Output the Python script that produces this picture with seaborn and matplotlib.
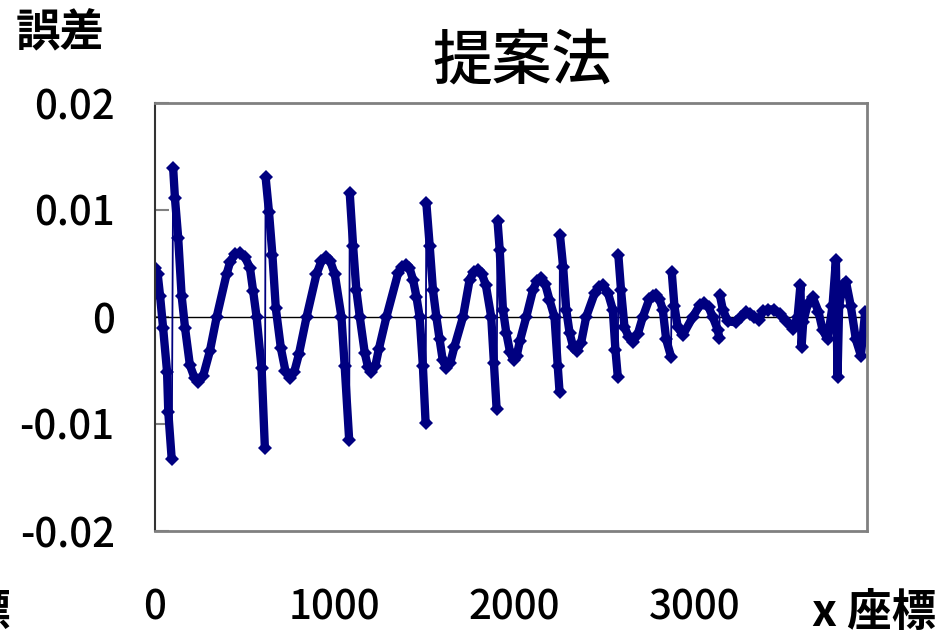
import numpy as np
import pandas as pd
import seaborn as sns
import matplotlib
matplotlib.use("Agg")
import matplotlib.pyplot as plt

# Error curve (x coordinate, error)
x_coord = [
    0, 15, 28, 45, 67, 74, 93,
    101, 111, 129, 148, 167, 194, 220, 240, 268, 305, 343, 398, 417, 445, 472, 500, 528, 546, 565, 593, 611,
    615, 634, 653, 672, 700, 725, 750, 775, 800, 843, 898, 925, 950, 975, 1000, 1037, 1055, 1080,
    1083, 1102, 1120, 1139, 1167, 1185, 1204, 1225, 1245, 1287, 1352, 1372, 1394, 1415, 1435, 1454, 1472, 1490, 1505,
    1509, 1528, 1546, 1565, 1583, 1600, 1620, 1642, 1665, 1713, 1750, 1773, 1796, 1818, 1840, 1870, 1885, 1900,
    1905, 1917, 1935, 1954, 1975, 1994, 2012, 2030, 2065, 2102, 2125, 2148, 2170, 2194, 2222, 2240, 2250,
    2252, 2270, 2287, 2306, 2326, 2346, 2370, 2398, 2445, 2468, 2491, 2520, 2546, 2561, 2574,
    2577, 2592, 2611, 2635, 2657, 2685, 2713, 2750, 2770, 2787, 2805, 2824, 2843, 2870,
    2874, 2889, 2907, 2935, 2991, 3030, 3055, 3080, 3102, 3130, 3139,
    3141, 3158, 3185, 3232, 3260, 3287, 3310, 3333, 3361, 3380, 3410, 3444, 3475, 3509, 3546, 3574, 3590,
    3596, 3605, 3630, 3657, 3690, 3713, 3741, 3768, 3787, 3796, 3805, 3825, 3843, 3870,
    3898, 3926, 3950,
]
err = [
    0.0046, 0.0040, 0.0020, -0.0010, -0.0051, -0.0089, -0.0133,
    0.0139, 0.0111, 0.0074, 0.0020, -0.0010, -0.0045, -0.0057, -0.0061, -0.0055, -0.0032, 0.0000, 0.0040, 0.0051, 0.0059, 0.0060, 0.0056, 0.0046, 0.0024, 0.0000, -0.0048, -0.0122,
    0.0131, 0.0098, 0.0058, 0.0008, -0.0029, -0.0050, -0.0057, -0.0051, -0.0035, 0.0000, 0.0040, 0.0052, 0.0056, 0.0052, 0.0040, 0.0000, -0.0046, -0.0115,
    0.0116, 0.0066, 0.0025, 0.0000, -0.0034, -0.0047, -0.0051, -0.0046, -0.0030, 0.0000, 0.0041, 0.0047, 0.0049, 0.0046, 0.0035, 0.0019, 0.0000, -0.0046, -0.0099,
    0.0107, 0.0066, 0.0025, 0.0000, -0.0021, -0.0040, -0.0048, -0.0043, -0.0028, 0.0000, 0.0035, 0.0042, 0.0044, 0.0040, 0.0030, 0.0000, -0.0043, -0.0086,
    0.0090, 0.0063, 0.0007, -0.0015, -0.0033, -0.0040, -0.0036, -0.0022, 0.0000, 0.0025, 0.0034, 0.0036, 0.0031, 0.0016, 0.0000, -0.0046, -0.0070,
    0.0077, 0.0047, 0.0007, -0.0015, -0.0028, -0.0032, -0.0024, 0.0000, 0.0022, 0.0028, 0.0030, 0.0022, 0.0007, -0.0031, -0.0056,
    0.0058, 0.0025, -0.0009, -0.0019, -0.0023, -0.0016, 0.0000, 0.0017, 0.0020, 0.0021, 0.0017, 0.0007, -0.0021, -0.0037,
    0.0042, 0.0010, -0.0009, -0.0017, 0.0000, 0.0011, 0.0013, 0.0009, 0.0000, -0.0012, -0.0020,
    0.0021, 0.0007, -0.0004, -0.0005, 0.0000, 0.0005, 0.0003, 0.0000, -0.0003, 0.0006, 0.0007, 0.0007, 0.0003, -0.0004, -0.0011, 0.0000, 0.0030,
    -0.0028, -0.0005, 0.0012, 0.0019, 0.0005, -0.0012, -0.0021, 0.0010, 0.0053, -0.0056, 0.0010, 0.0030, 0.0033, 0.0010,
    -0.0021, -0.0036, 0.0005,
]
# first point of each smooth branch (sharp jumps in between)
branch_start = [0, 7, 28, 46, 65, 83, 100, 115, 129, 140]

x_ticks = [0, 1000, 2000, 3000]
y_ticks = [-0.02, -0.01, 0, 0.01, 0.02]
y_labels = ["-0.02", "-0.01", "0", "0.01", "0.02"]

navy = "#000080"

df = pd.DataFrame({"x": x_coord, "err": err})
seg = np.zeros(len(df), dtype=int)
for s in branch_start[1:]:
    seg[s:] += 1
df["seg"] = seg

# thin jump lines between branches
jumps = []
for j, s in enumerate(branch_start[1:]):
    jumps.append({"x": x_coord[s - 1], "err": err[s - 1], "j": j})
    jumps.append({"x": x_coord[s], "err": err[s], "j": j})
jump_df = pd.DataFrame(jumps)

sns.set_theme(style="white")
plt.rcParams["font.family"] = ["Noto Sans CJK JP", "DejaVu Sans"]
plt.rcParams["text.color"] = "black"
plt.rcParams["xtick.color"] = "black"
plt.rcParams["ytick.color"] = "black"

fig = plt.figure(figsize=(9.39, 6.34), dpi=100)
ax = fig.add_axes([155 / 939, (634 - 531) / 634, (867 - 155) / 939, (531 - 103) / 634])

ax.axhline(0, color="black", lw=1, zorder=1)

sns.lineplot(data=jump_df, x="x", y="err", units="j", estimator=None, sort=False,
             color=navy, lw=1.3, ax=ax, legend=False)
sns.lineplot(data=df, x="x", y="err", units="seg", estimator=None, sort=False,
             color=navy, lw=6, marker="D", markersize=7, markeredgewidth=0,
             solid_joinstyle="round", solid_capstyle="round", ax=ax, legend=False)

ax.set_xlim(0, 3960)
ax.set_ylim(-0.02, 0.02)
ax.set_xticks(x_ticks)
ax.set_xticklabels([str(t) for t in x_ticks])
ax.set_yticks(y_ticks)
ax.set_yticklabels(y_labels)
ax.set_xlabel("")
ax.set_ylabel("")

ax.tick_params(axis="y", direction="in", length=10, width=1.5, color="#808080",
               labelsize=29, pad=29, left=True, labelcolor="black")
ax.tick_params(axis="x", length=0, labelsize=29, pad=41, labelcolor="black")
for lbl in ax.get_xticklabels() + ax.get_yticklabels():
    lbl.set_fontweight("medium")

for side in ["top", "right", "bottom"]:
    ax.spines[side].set_color("#808080")
    ax.spines[side].set_linewidth(2)
ax.spines["left"].set_color("#333333")
ax.spines["left"].set_linewidth(1.5)

fig.text(522 / 939, 1 - 61 / 634, "提案法", ha="center", va="center", fontsize=43, weight="medium")
fig.text(16 / 939, 1 - 33 / 634, "誤差", ha="left", va="center", fontsize=32, weight="bold")
fig.text(812 / 939, 1 - 613 / 634, "x 座標", ha="left", va="center", fontsize=32, weight="bold")
fig.text(10 / 939, 1 - 613 / 634, "標", ha="right", va="center", fontsize=32, weight="bold")

fig.savefig("out.png", dpi=100)
plt.close()
